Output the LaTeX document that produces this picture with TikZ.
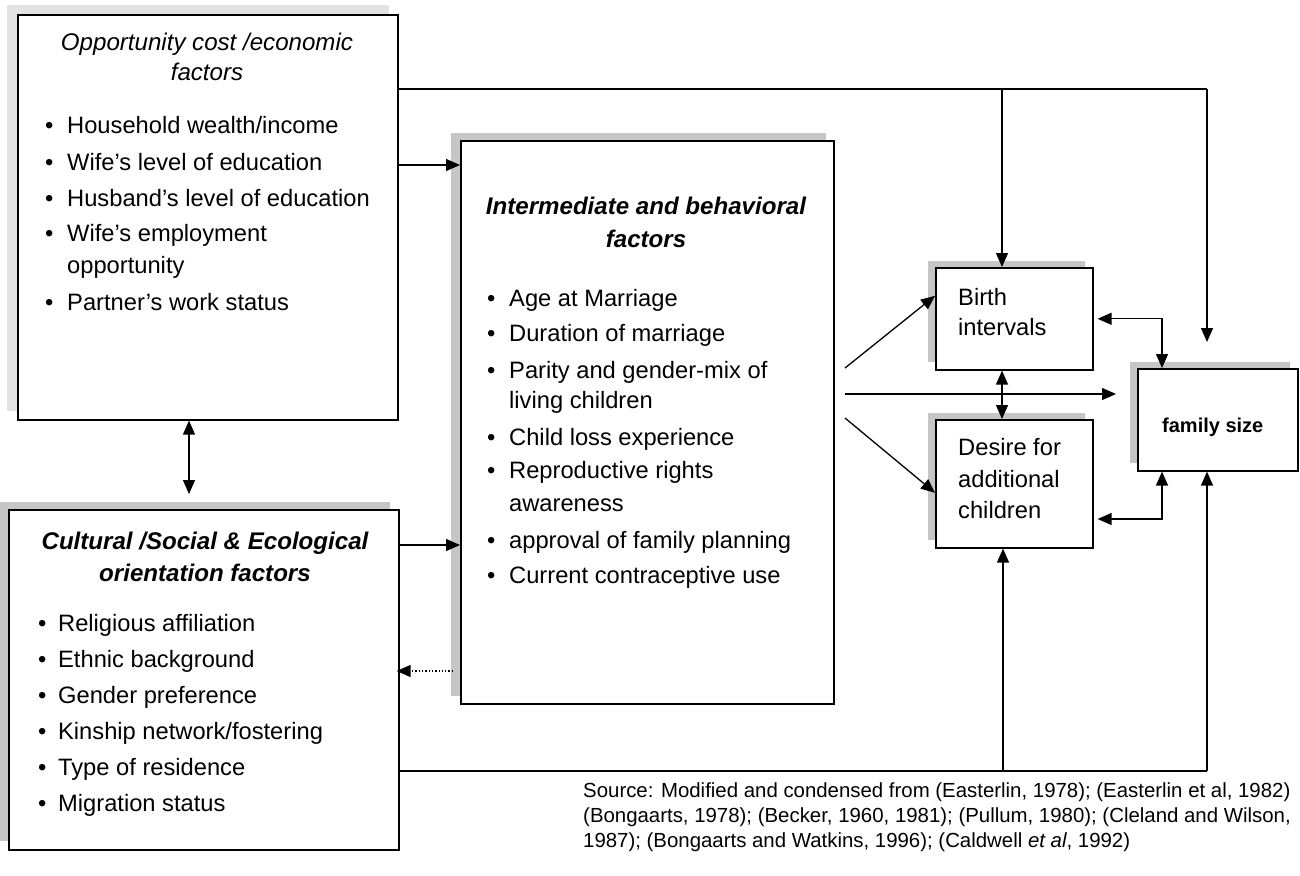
\documentclass[tikz,border=0pt]{standalone}
\usepackage{fontspec}
\setmainfont{Liberation Sans}
\usetikzlibrary{arrows.meta}
\newcommand{\fsz}{\fontsize{23.7}{28}\selectfont}
\newcommand{\tsz}{\fontsize{24.1}{28}\selectfont}
\newcommand{\bl}{\makebox[22pt][l]{\textbullet}}
\begin{document}
\begin{tikzpicture}[x=1pt,y=-1pt,
  box/.style={draw=black,line width=1.6pt,fill=white,inner sep=0pt,anchor=north west},
  shd/.style={fill=gray!45,draw=none},
  lshd/.style={fill=gray!22,draw=none},
  tip/.tip={Triangle[length=14pt,width=12pt]},
  conn/.style={line width=1.3pt,-tip},
  both/.style={line width=1.3pt,tip-tip},
  plain/.style={line width=1.3pt},
  itm/.style={inner sep=0pt,anchor=base west,font=\fsz},
  ttl/.style={inner sep=0pt,anchor=base,font=\tsz\itshape},
  bttl/.style={inner sep=0pt,anchor=base,font=\tsz\bfseries\itshape},
  src/.style={inner sep=0pt,anchor=base west,font=\fontsize{20.4}{24}\selectfont}
]
\useasboundingbox (0,0) rectangle (1300,875);
\fill[white] (0,0) rectangle (1300,875);

% shadows
\fill[lshd] (7,5) rectangle (389,411);
\fill[shd] (0,502) rectangle (390,841);
\fill[shd] (451,133) rectangle (826,696);
\fill[shd] (928,261) rectangle (1085,362);
\fill[shd] (928,413) rectangle (1085,540);
\fill[shd] (1130,362) rectangle (1290,463);

% boxes
\node[box,minimum width=380pt,minimum height=405pt] (opp) at (17,14) {};
\node[box,minimum width=390pt,minimum height=340pt] (cult) at (8,509) {};
\node[box,minimum width=373pt,minimum height=563pt] (inter) at (460,140) {};
\node[box,minimum width=157pt,minimum height=102pt] (birth) at (935,267) {};
\node[box,minimum width=157pt,minimum height=128pt] (desire) at (935,419) {};
\node[box,minimum width=160pt,minimum height=102pt] (family) at (1137,368) {};

% opportunity text
\node[ttl] (ot1) at (207,51) {Opportunity cost /economic};
\node[ttl] (ot2) at (207,81) {factors};
\node[itm] (o1) at (45,133) {\bl Household wealth/income};
\node[itm] (o2) at (45,170) {\bl Wife’s level of education};
\node[itm] (o3) at (45,206) {\bl Husband’s level of education};
\node[itm] (o4) at (45,241) {\bl Wife’s employment};
\node[itm] (o4b) at (67,273) {opportunity};
\node[itm] (o5) at (45,310) {\bl Partner’s work status};

% cultural text
\node[bttl] (ct1) at (205,549) {Cultural /Social \& Ecological};
\node[bttl] (ct2) at (205,581) {orientation factors};
\node[itm] (c1) at (38,631) {\makebox[20pt][l]{\textbullet}Religious affiliation};
\node[itm] (c2) at (38,667) {\makebox[20pt][l]{\textbullet}Ethnic background};
\node[itm] (c3) at (38,703) {\makebox[20pt][l]{\textbullet}Gender preference};
\node[itm] (c4) at (38,739) {\makebox[20pt][l]{\textbullet}Kinship network/fostering};
\node[itm] (c5) at (38,775) {\makebox[20pt][l]{\textbullet}Type of residence};
\node[itm] (c6) at (38,811) {\makebox[20pt][l]{\textbullet}Migration status};

% intermediate text
\node[bttl] (it1) at (646,214) {Intermediate and behavioral};
\node[bttl] (it2) at (646,247) {factors};
\node[itm] (i1) at (487,306) {\bl Age at Marriage};
\node[itm] (i2) at (487,341) {\bl Duration of marriage};
\node[itm] (i3) at (487,378) {\bl Parity and gender-mix of};
\node[itm] (i3b) at (509,408) {living children};
\node[itm] (i4) at (487,445) {\bl Child loss experience};
\node[itm] (i5) at (487,478) {\bl Reproductive rights};
\node[itm] (i5b) at (509,511) {awareness};
\node[itm] (i6) at (487,548) {\bl approval of family planning};
\node[itm] (i7) at (487,583) {\bl Current contraceptive use};

% right boxes text
\node[itm] (b1) at (958,305) {Birth};
\node[itm] (b2) at (958,335) {intervals};
\node[itm] (d1t) at (958,455) {Desire for};
\node[itm] (d2t) at (958,487) {additional};
\node[itm] (d3t) at (958,518) {children};
\node[itm,font=\fontsize{20}{24}\selectfont\bfseries] (fs) at (1162,432) {family size};

% source
\node[src] (s1) at (583,797) {Source: Modified and condensed from (Easterlin, 1978); (Easterlin et al, 1982)};
\node[src] (s2) at (583,822) {(Bongaarts, 1978); (Becker, 1960, 1981); (Pullum, 1980); (Cleland and Wilson,};
\node[src] (s3) at (583,847) {1987); (Bongaarts and Watkins, 1996); (Caldwell \textit{et al}, 1992)};

% helper coordinates
\coordinate (y89) at (0,89);
\coordinate (y165) at (0,165);
\coordinate (y545) at (0,545);
\coordinate (y671) at (0,671);
\coordinate (y771) at (0,771);
\coordinate (y519) at (0,519);
\coordinate (dx) at (189,0);
\coordinate (tm) at (1002,89);
\coordinate (tr) at (1207,89);
\coordinate (tre) at (1207,342);
\coordinate (bm) at (1003,771);
\coordinate (br) at (1207,771);
\coordinate (fx) at (1162,0);
\coordinate (da) at (845,368);
\coordinate (db) at (845,394);
\coordinate (dc) at (845,418);
\coordinate (dbe) at (1116,394);

% connectors
\draw[plain] (opp.east |- y89) -- (tr);
\draw[conn] (tm) -- (tm |- birth.north);
\draw[conn] (tr) -- (tre);
\draw[conn] (opp.east |- y165) -- (inter.west |- y165);
\draw[both,shorten >=15pt] (opp.south -| dx) -- (cult.north -| dx);
\draw[conn] (cult.east |- y545) -- (inter.west |- y545);
\draw[conn,dotted] ([xshift=-7pt]inter.west |- y671) -- ([xshift=-3pt]cult.east |- y671);
\draw[plain] (cult.east |- y771) -- (br);
\draw[conn] (bm) -- (bm |- desire.south);
\draw[conn] (br) -- (br |- family.south);
\draw[conn] (da) -- ([yshift=23pt]birth.west);
\draw[conn] (dc) -- ([yshift=-9pt]desire.west);
\draw[conn] (db) -- (dbe);
\draw[both] (birth.south -| tm) -- (desire.north -| tm);
\draw[both,shorten <=4pt] (birth.east) -| (fx |- family.north);
\draw[both,shorten <=4pt] (desire.east |- y519) -| (fx |- family.south);
\end{tikzpicture}
\end{document}
